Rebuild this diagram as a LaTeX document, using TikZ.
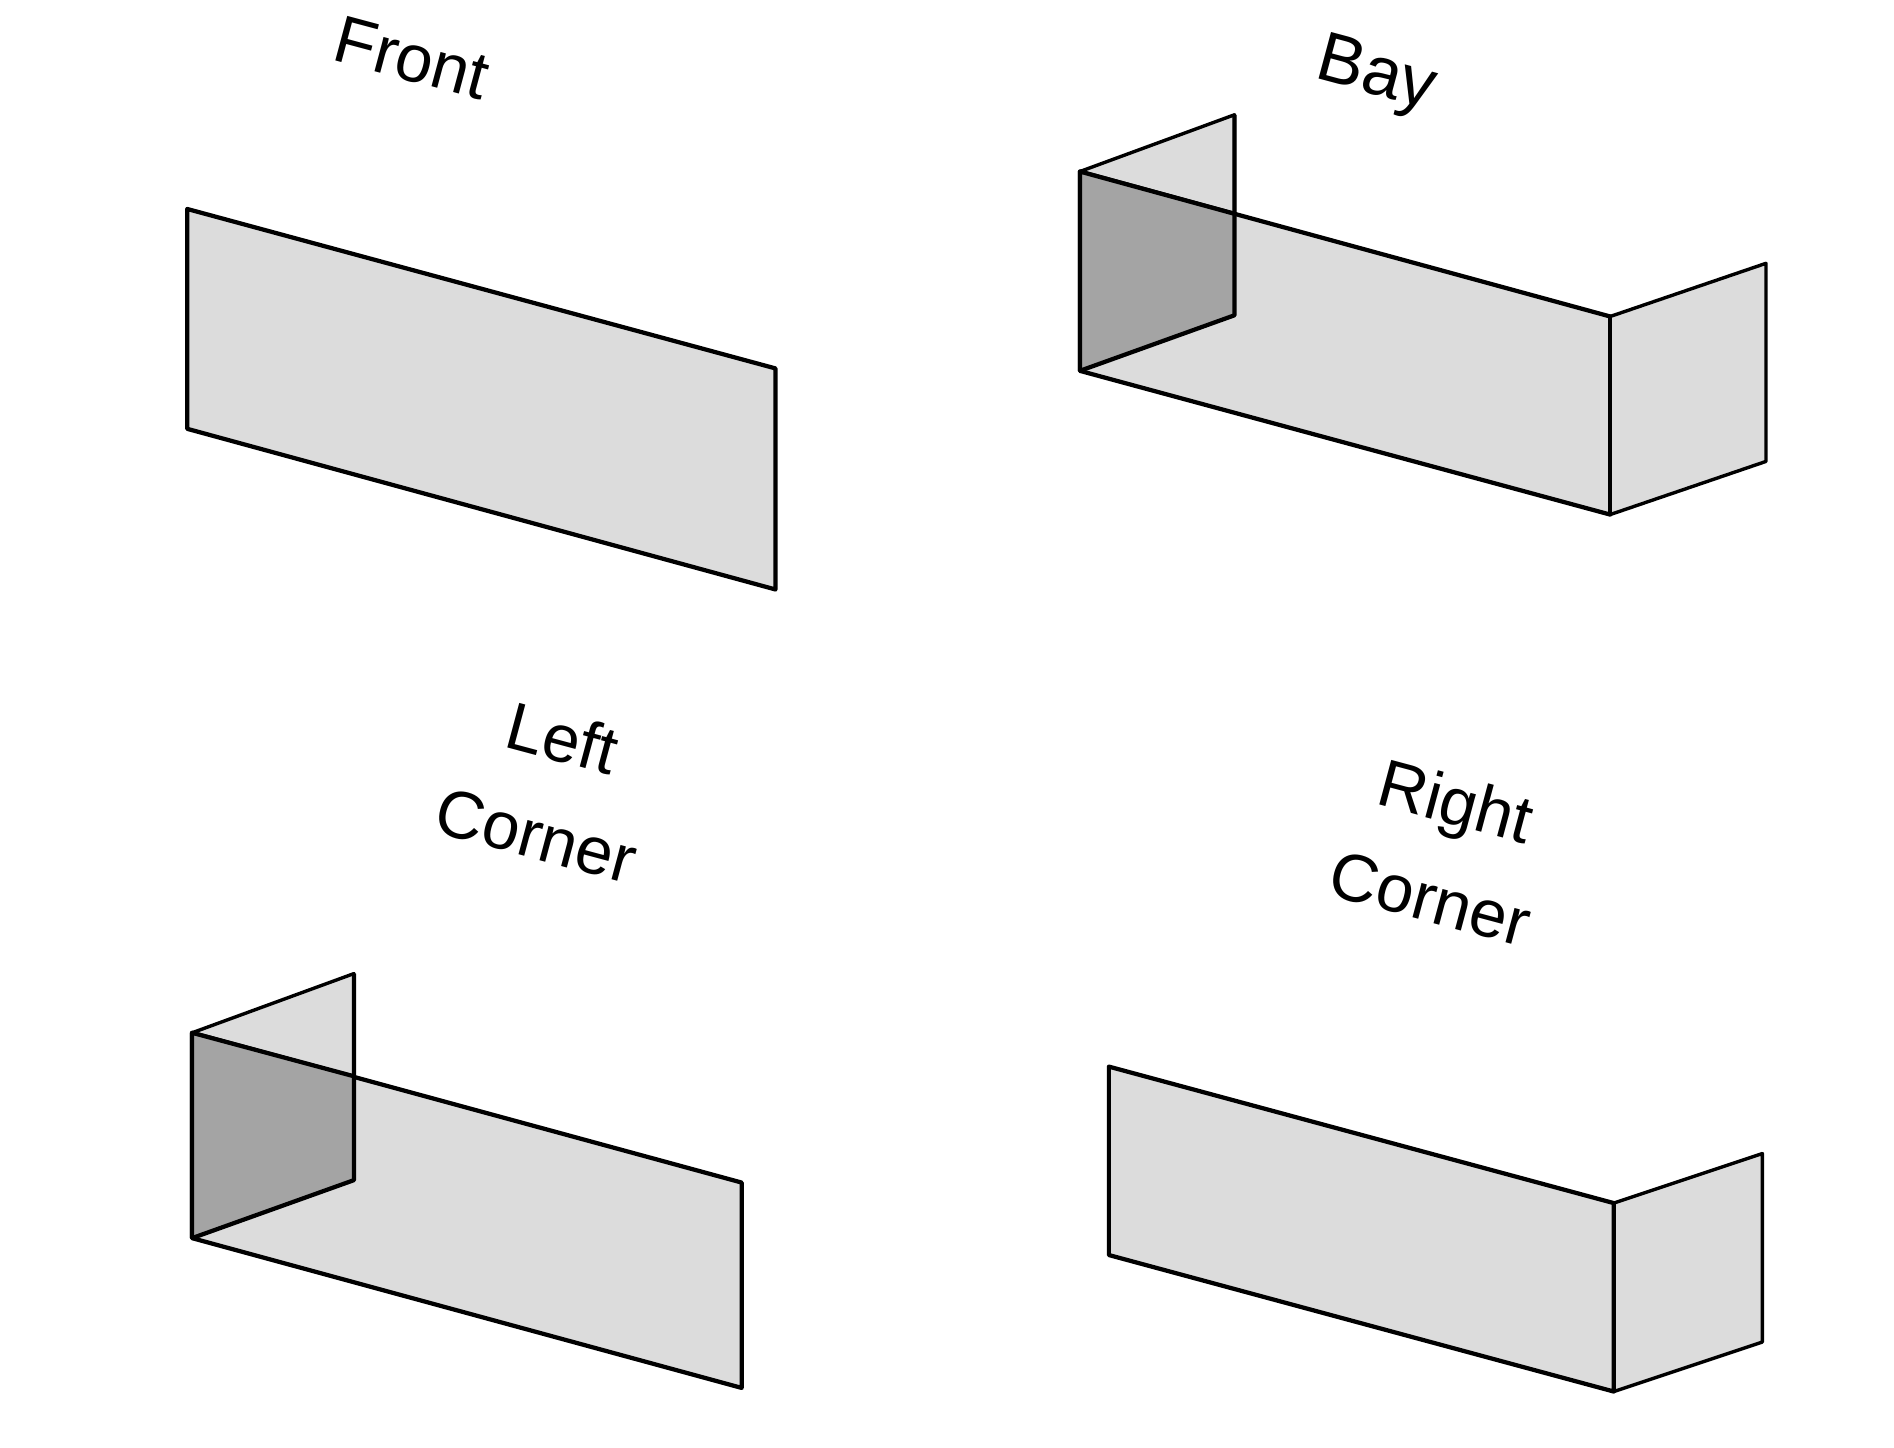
\documentclass[tikz,border=0pt]{standalone}
\usepackage{fontspec}
\setmainfont{Liberation Sans}
\definecolor{wall}{HTML}{DCDCDC}
\definecolor{overlap}{HTML}{A4A4A4}
\tikzset{
  panel/.style={draw=black,fill=wall,line width=2pt,line join=round},
  thinpanel/.style={panel,line width=1.6pt},
  dark/.style={fill=overlap,draw=none},
  edge/.style={draw=black,line width=2pt,line join=round},
  lab/.style={rotate=-15,align=center,inner sep=0pt,font=\fontsize{31.6}{47.2}\selectfont},
}
\begin{document}
\begin{tikzpicture}[x=0.02cm,y=-0.02cm]
\useasboundingbox (0,0) rectangle (1568,1198);
% Front
\draw[panel] (155,173)--(642,305)--(642,488)--(155,355)--cycle;
\node[lab] (front) at (341,48) {Front};
% Bay
\draw[thinpanel] (894,142)--(1022,95)--(1022,261)--(894,307)--cycle;
\draw[panel] (894,142)--(1333,262)--(1333,426)--(894,307)--cycle;
\draw[thinpanel] (1333,262)--(1462,218)--(1462,382)--(1333,426)--cycle;
\fill[dark] (894,142)--(1022,177)--(1022,261)--(894,307)--cycle;
\draw[edge] (894,307)--(894,142)--(1022,177);
\draw[edge] (1022,95)--(1022,261)--(894,307);
\node[lab,font=\fontsize{33}{47.2}\selectfont] (bay) at (1139,64) {Bay};
% Left corner
\draw[thinpanel] (159,855)--(293,806)--(293,977)--(159,1025)--cycle;
\draw[panel] (159,855)--(614,979)--(614,1149)--(159,1025)--cycle;
\fill[dark] (159,855)--(293,891)--(293,977)--(159,1025)--cycle;
\draw[edge] (159,1025)--(159,855)--(293,891);
\draw[edge] (293,806)--(293,977)--(159,1025);
\node[lab] (left) at (455,651) {Left\\Corner};
% Right corner
\draw[thinpanel] (1336,996)--(1459,955)--(1459,1111)--(1336,1152)--cycle;
\draw[panel] (918,883)--(1336,996)--(1336,1152)--(918,1039)--cycle;
\node[lab] (right) at (1195,703) {Right\\Corner};
\end{tikzpicture}
\end{document}
